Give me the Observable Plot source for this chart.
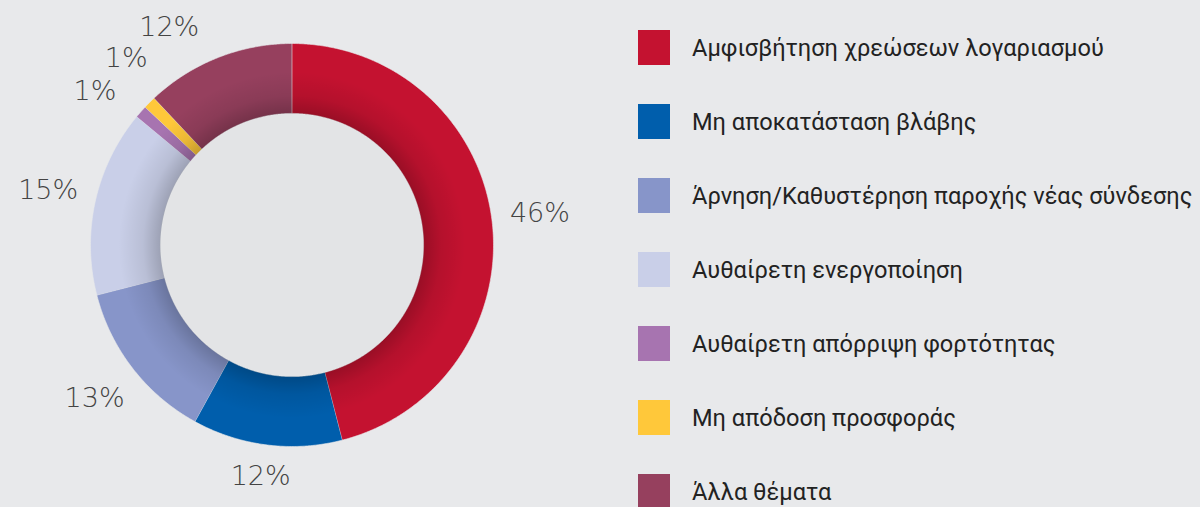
<!DOCTYPE html>
<html>
<head>
<meta charset="utf-8">
<script src="https://cdn.jsdelivr.net/npm/d3@7"></script>
<script src="https://cdn.jsdelivr.net/npm/@observablehq/plot@0.6"></script>
<style>
  html, body { margin: 0; padding: 0; background: #e8e9eb; }
  #wrap { position: relative; width: 1200px; height: 507px; overflow: hidden; }
  #legend { position: absolute; left: 638px; top: 30px; font-family: Roboto, "Noto Sans", sans-serif; font-size: 23.6px; color: #222; }
  .row { display: flex; align-items: center; height: 35px; margin-bottom: 39px; white-space: nowrap; }
  .sw { width: 32px; height: 35px; margin-right: 22px; flex: none; }
</style>
</head>
<body>
<div id="wrap"><div id="legend"></div></div>
<script>
const categories = [
  "Αμφισβήτηση χρεώσεων λογαριασμού",
  "Μη αποκατάσταση βλάβης",
  "Άρνηση/Καθυστέρηση παροχής νέας σύνδεσης",
  "Αυθαίρετη ενεργοποίηση",
  "Αυθαίρετη απόρριψη φορτότητας",
  "Μη απόδοση προσφοράς",
  "Άλλα θέματα"
];
const shares = [46, 12, 13, 15, 1, 1, 12];
const colors = ["#c41230", "#005eac", "#8795c9", "#c9cfe8", "#a774b0", "#ffc83a", "#96405e"];
const pctLabels = shares.map(v => v + "%");

const R = 1, r0 = 0.653, labelR = 1.24, minGap = 10.5 * Math.PI / 180, yTop = 1.08, yBottom = -1.15;
const total = d3.sum(shares);
const cum = d3.cumsum(shares);

function arcPts(a0, a1, rad, step) {
  const n = Math.max(2, Math.ceil(Math.abs(a1 - a0) / step));
  return d3.range(n + 1).map(i => {
    const a = a0 + (a1 - a0) * i / n;
    return [rad * Math.sin(a), rad * Math.cos(a)];
  });
}

const slicePts = [];
const mids = [];
categories.forEach((c, i) => {
  const a0 = (cum[i] - shares[i]) / total * 2 * Math.PI;
  const a1 = cum[i] / total * 2 * Math.PI;
  const pts = arcPts(a0, a1, R, 0.008).concat(arcPts(a1, a0, r0, 0.008));
  pts.forEach(p => slicePts.push({cat: c, x: p[0], y: p[1]}));
  mids.push((a0 + a1) / 2);
});

// spread label angles so that neighbouring labels keep a minimum gap
const ang = mids.slice();
for (let it = 0; it < 50; it++) {
  for (let i = 0; i < ang.length - 1; i++) {
    const g = ang[i + 1] - ang[i];
    if (g < minGap) { const d = (minGap - g) / 2; ang[i] -= d; ang[i + 1] += d; }
  }
}
const labelData = ang.map((a, i) => {
  let x = labelR * Math.sin(a), y = labelR * Math.cos(a);
  if (y > yTop) { y = yTop; x = Math.sign(x) * Math.sqrt(labelR * labelR - y * y); }
  if (y < yBottom) { y = yBottom; }
  return {x, y, text: pctLabels[i]};
});

const ring = arcPts(0, 2 * Math.PI, R, 0.01).concat(arcPts(2 * Math.PI, 0, r0, 0.01)).map(p => ({x: p[0], y: p[1]}));
const hole = arcPts(0, 2 * Math.PI, r0, 0.01).map(p => ({x: p[0], y: p[1]}));

const defs = () => {
  const ns = "http://www.w3.org/2000/svg";
  const d = document.createElementNS(ns, "defs");
  const g = document.createElementNS(ns, "radialGradient");
  g.setAttribute("id", "shade");
  g.setAttribute("cx", "50%"); g.setAttribute("cy", "50%"); g.setAttribute("r", "50%");
  [[r0, 0.22], [0.74, 0.08], [0.86, 0]].forEach(([o, a]) => {
    const s = document.createElementNS(ns, "stop");
    s.setAttribute("offset", o);
    s.setAttribute("stop-color", "#000");
    s.setAttribute("stop-opacity", a);
    g.appendChild(s);
  });
  d.appendChild(g);
  return d;
};

const chart = Plot.plot({
  width: 1200,
  height: 507,
  margin: 0,
  style: {background: "transparent"},
  x: {domain: [-1, 1], range: [90, 493], axis: null},
  y: {domain: [-1, 1], range: [446, 43], axis: null},
  color: {domain: categories, range: colors},
  marks: [
    defs,
    Plot.line(hole, {x: "x", y: "y", fill: "#e3e4e6", stroke: "none", curve: "linear"}),
    Plot.line(slicePts, {x: "x", y: "y", z: "cat", fill: "cat", stroke: "#e8e9eb", strokeWidth: 0.6, curve: "linear"}),
    Plot.line(ring, {x: "x", y: "y", fill: "url(#shade)", stroke: "none", curve: "linear"}),
    Plot.text(labelData, {x: "x", y: "y", text: "text", fontSize: 27, fill: "#444", fontFamily: "DejaVu Sans", fontWeight: 300, textAnchor: "middle"})
  ]
});
document.getElementById("wrap").prepend(chart);

const legend = d3.select("#legend");
categories.forEach((c, i) => {
  const row = legend.append("div").attr("class", "row");
  row.append("div").attr("class", "sw").style("background", colors[i]);
  row.append("span").text(c);
});
</script>
</body>
</html>
